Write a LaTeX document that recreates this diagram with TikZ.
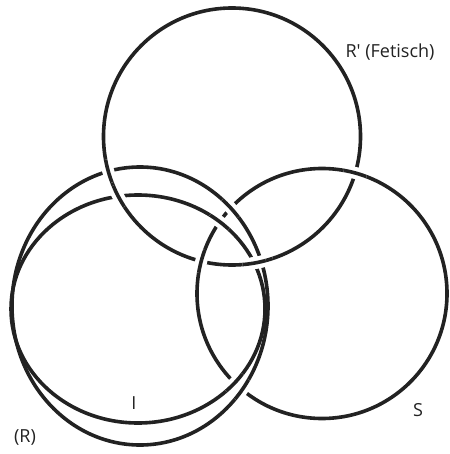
\documentclass[tikz,border=0pt]{standalone}
\usepackage{fontspec}
\setmainfont{Open Sans}
\usetikzlibrary{intersections}
\definecolor{ink}{HTML}{222222}
\begin{document}
\begin{tikzpicture}[x=1pt,y=-1pt,
  ring/.style={line width=3.6pt, draw=ink},
  halo/.style={line width=12pt, draw=white},
  lbl/.style={font=\fontsize{18}{20}\selectfont, text=ink, inner sep=0pt},
  pT/.style={insert path={(232,136.5) circle[radius=128.5pt]}},
  pS/.style={insert path={(322,293.5) circle[radius=125pt]}},
  pO/.style={insert path={(140,306) ellipse[x radius=128pt, y radius=139pt]}},
  pI/.style={insert path={(138,309) ellipse[x radius=127pt, y radius=114pt]}}]
\useasboundingbox (0,0) rectangle (449,454);
% full rings
\draw[ring,pT];
\draw[ring,pS];
\draw[ring,pO];
\draw[ring,pI];
% paths for intersections
\path[name path=T,pT];
\path[name path=S,pS];
\path[name path=O,pO];
\path[name path=I,pI];
\path[name intersections={of=T and O, name=tO}];
\path[name intersections={of=T and I, name=tI}];
\path[name intersections={of=S and T, name=sT}];
\path[name intersections={of=S and O, name=sO}];
\path[name intersections={of=S and I, name=sI}];
% T over O and I
\foreach \p in {tO-1,tO-2,tI-1,tI-2}{
  \begin{scope}\clip (\p) circle[radius=12pt];
    \draw[halo,pT]; \draw[ring,pT];
  \end{scope}}
% S over T
\foreach \p in {sT-1,sT-2}{
  \begin{scope}\clip (\p) circle[radius=12pt];
    \draw[halo,pS]; \draw[ring,pS];
  \end{scope}}
% O over S
\foreach \p in {sO-1,sO-2}{
  \begin{scope}\clip (\p) circle[radius=12pt];
    \draw[halo,pO]; \draw[ring,pO];
  \end{scope}}
% I over S
\foreach \p in {sI-1,sI-2}{
  \begin{scope}\clip (\p) circle[radius=12pt];
    \draw[halo,pI]; \draw[ring,pI];
  \end{scope}}
% labels
\node[lbl] (lfet) at (390,52) {R\textquotesingle{} (Fetisch)};
\node[lbl] (ls) at (418,410) {S};
\node[lbl] (li) at (134,403) {I};
\node[lbl] (lr) at (25,437) {(R)};
\end{tikzpicture}
\end{document}
